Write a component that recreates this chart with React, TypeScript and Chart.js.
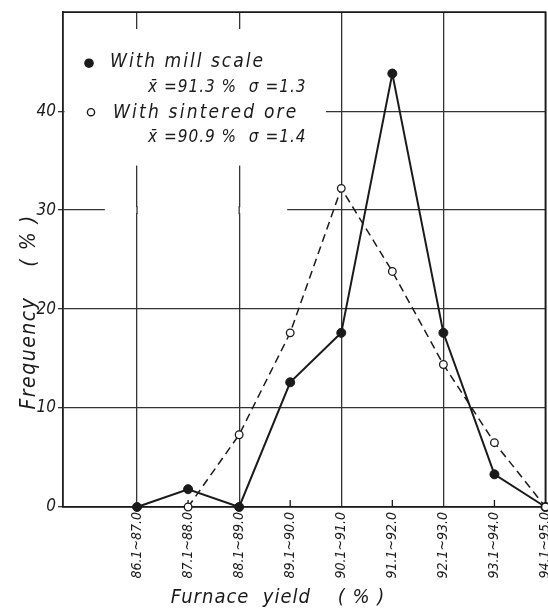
import React, { useEffect, useRef } from "react";
import { Chart, registerables } from "chart.js";

Chart.register(...registerables);

const categories = [
  "86.1~87.0",
  "87.1~88.0",
  "88.1~89.0",
  "89.1~90.0",
  "90.1~91.0",
  "91.1~92.0",
  "92.1~93.0",
  "93.1~94.0",
  "94.1~95.0",
];
const millScale: (number | null)[] = [0, 1.8, 0, 12.6, 17.6, 43.8, 17.6, 3.3, 0];
const sinteredOre: (number | null)[] = [null, 0, 7.3, 17.6, 32.2, 23.8, 14.4, 6.5, 0];
const yTicks = [0, 10, 20, 30, 40];
const millLabel = "With mill scale";
const millStats = "x̄ =91.3 %  σ =1.3";
const sinterLabel = "With sintered ore";
const sinterStats = "x̄ =90.9 %  σ =1.4";
const xTitle = "Furnace  yield    ( % )";
const yTitle = "Frequency    ( % )";

const INK = "#1a1a1a";
const FONT = "'DejaVu Sans Condensed', 'DejaVu Sans', sans-serif";

const toPoints = (arr: (number | null)[]) =>
  arr
    .map((v, i) => (v === null ? null : { x: i, y: v }))
    .filter((p) => p !== null) as { x: number; y: number }[];

const setSpacing = (ctx: any, v: string) => {
  try {
    ctx.letterSpacing = v;
  } catch (e) {}
};

const decorPlugin = {
  id: "decor",
  beforeDatasetsDraw(chart: any) {
    const { ctx, chartArea: a, scales } = chart;
    const xs = scales.x;
    const ys = scales.y;
    ctx.save();
    // blank areas of the scanned grid behind the legend
    ctx.fillStyle = "#fff";
    const r1x0 = a.left + 1.5;
    const r1x1 = xs.getPixelForValue(3.7);
    const r1y0 = ys.getPixelForValue(48.3);
    const r1y1 = ys.getPixelForValue(34.5);
    ctx.fillRect(r1x0, r1y0, r1x1 - r1x0, r1y1 - r1y0);
    const r2x0 = xs.getPixelForValue(-0.63);
    const r2x1 = xs.getPixelForValue(2.94);
    const r2y0 = ys.getPixelForValue(30.3);
    const r2y1 = ys.getPixelForValue(29.7);
    ctx.fillRect(r2x0, r2y0, r2x1 - r2x0, r2y1 - r2y0);
    ctx.strokeStyle = "#333";
    ctx.lineWidth = 1.3;
    [0, 2].forEach((v) => {
      const px = xs.getPixelForValue(v);
      ctx.beginPath();
      ctx.moveTo(px, r2y0 - 1);
      ctx.lineTo(px, r2y1 + 1);
      ctx.stroke();
    });
    // frame top and right
    ctx.strokeStyle = INK;
    ctx.lineWidth = 1.8;
    ctx.beginPath();
    ctx.moveTo(a.left, a.top);
    ctx.lineTo(a.right, a.top);
    ctx.lineTo(a.right, a.bottom);
    ctx.stroke();
    // inner minor ticks at odd categories
    ctx.lineWidth = 1.3;
    categories.forEach((_, i) => {
      if (i % 2 === 1) {
        const px = xs.getPixelForValue(i);
        ctx.beginPath();
        ctx.moveTo(px, a.bottom);
        ctx.lineTo(px, a.bottom - 7);
        ctx.stroke();
      }
    });
    ctx.restore();
  },
  afterDatasetsDraw(chart: any) {
    const { ctx, chartArea: a } = chart;
    ctx.save();
    ctx.fillStyle = INK;
    ctx.textBaseline = "middle";
    ctx.textAlign = "left";
    // legend
    ctx.beginPath();
    ctx.arc(a.left + 26, a.top + 51, 4.8, 0, Math.PI * 2);
    ctx.fill();
    ctx.font = "italic 19px " + FONT;
    setSpacing(ctx, "2px");
    ctx.fillText(millLabel, a.left + 47, a.top + 50);
    ctx.font = "italic 17px " + FONT;
    setSpacing(ctx, "1px");
    ctx.fillText(millStats, a.left + 85, a.top + 75);
    ctx.beginPath();
    ctx.arc(a.left + 28, a.top + 100, 3.6, 0, Math.PI * 2);
    ctx.fillStyle = "#fff";
    ctx.fill();
    ctx.strokeStyle = INK;
    ctx.lineWidth = 1.4;
    ctx.stroke();
    ctx.fillStyle = INK;
    ctx.font = "italic 19px " + FONT;
    setSpacing(ctx, "2.2px");
    ctx.fillText(sinterLabel, a.left + 50, a.top + 101);
    ctx.font = "italic 17px " + FONT;
    setSpacing(ctx, "1px");
    ctx.fillText(sinterStats, a.left + 85, a.top + 125);
    // axis titles
    ctx.font = "italic 20px " + FONT;
    setSpacing(ctx, "1px");
    ctx.textAlign = "center";
    ctx.fillText(xTitle, 278, 598);
    ctx.font = "italic 21px " + FONT;
    setSpacing(ctx, "1.5px");
    ctx.translate(30, 312);
    ctx.rotate(-Math.PI / 2);
    ctx.fillText(yTitle, 0, 0);
    ctx.restore();
  },
};

export default function App() {
  const ref = useRef<HTMLCanvasElement | null>(null);
  useEffect(() => {
    if (!ref.current) return;
    const chart = new Chart(ref.current, {
      type: "line",
      data: {
        datasets: [
          {
            label: millLabel,
            data: toPoints(millScale),
            borderColor: INK,
            borderWidth: 2,
            pointRadius: 4.5,
            pointBackgroundColor: INK,
            pointBorderColor: INK,
            pointBorderWidth: 1,
            tension: 0,
            clip: false as any,
            order: 1,
          },
          {
            label: sinterLabel,
            data: toPoints(sinteredOre),
            borderColor: INK,
            borderWidth: 1.5,
            borderDash: [8, 5],
            pointRadius: 3.8,
            pointBackgroundColor: "#fff",
            pointBorderColor: INK,
            pointBorderWidth: 1.3,
            tension: 0,
            clip: false as any,
            order: 0,
          },
        ],
      },
      options: {
        responsive: false,
        animation: false,
        layout: { padding: { top: 12, right: 0, left: 0, bottom: 0 } },
        plugins: { legend: { display: false }, tooltip: { enabled: false } },
        scales: {
          x: {
            type: "linear",
            min: -1.45,
            max: 8,
            afterBuildTicks: (s: any) => {
              s.ticks = categories.map((_, i) => ({ value: i }));
            },
            afterFit: (s: any) => {
              s.height = 105;
              s.paddingLeft = 0;
              s.paddingRight = 0;
            },
            grid: {
              color: (c: any) =>
                c.tick && c.tick.value % 2 === 0 ? "#333" : "rgba(0,0,0,0)",
              lineWidth: 1.3,
              drawTicks: false,
            },
            border: { display: true, color: INK, width: 1.8 },
            ticks: {
              autoSkip: false,
              maxRotation: 90,
              minRotation: 90,
              padding: 5,
              color: INK,
              font: { family: FONT, size: 14, style: "italic" },
              callback: (v: any) => categories[v] ?? "",
            },
          },
          y: {
            type: "linear",
            min: 0,
            max: 50,
            afterBuildTicks: (s: any) => {
              s.ticks = yTicks.map((v) => ({ value: v }));
            },
            afterFit: (s: any) => {
              s.width = 63;
            },
            grid: { color: "#333", lineWidth: 1.3, tickLength: 5 },
            border: { display: true, color: INK, width: 1.8 },
            ticks: {
              padding: 2,
              color: INK,
              font: { family: FONT, size: 17, style: "italic" },
            },
          },
        },
      },
      plugins: [decorPlugin],
    });
    return () => chart.destroy();
  }, []);
  return (
    <div
      style={{
        position: "fixed",
        left: 0,
        top: 0,
        width: 548,
        height: 612,
        overflow: "hidden",
        background: "#fff",
      }}
    >
      <canvas ref={ref} width={551} height={612} style={{ display: "block" }} />
    </div>
  );
}
